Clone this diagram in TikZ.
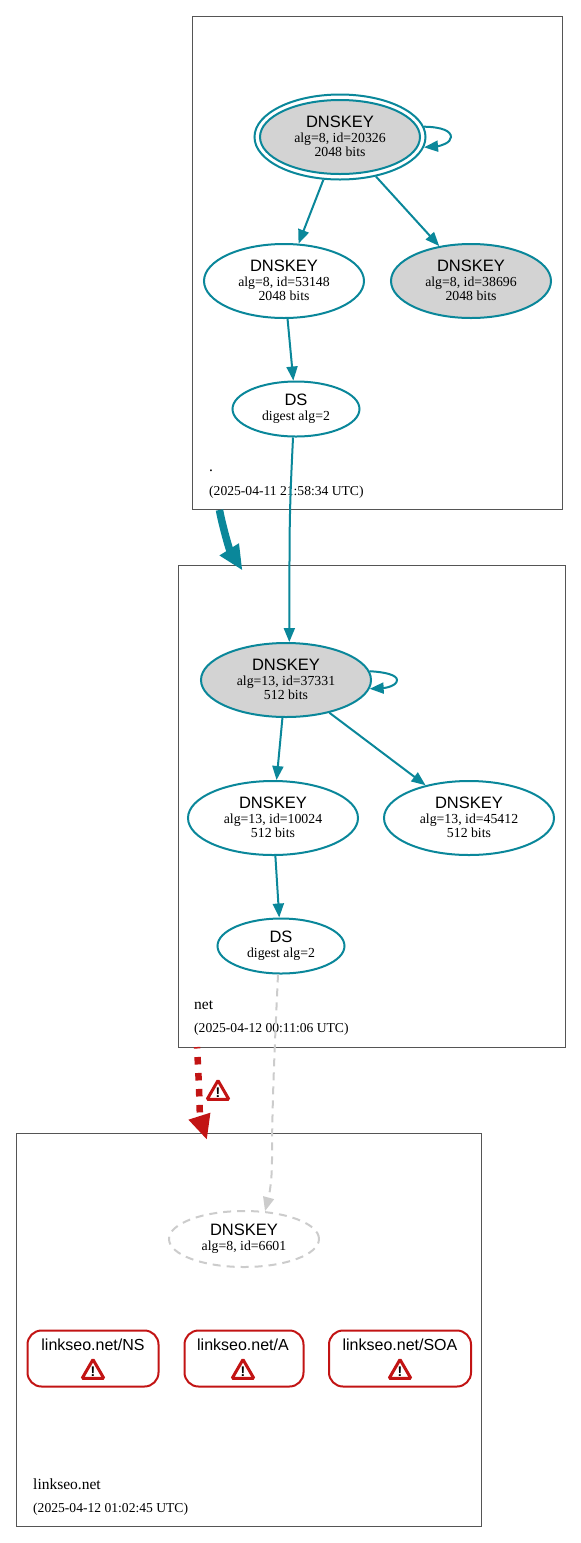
\documentclass[tikz,border=0pt]{standalone}
\usepackage{fontspec}
\setmainfont{Liberation Serif}
\newfontfamily\keyfont{Liberation Sans}
\definecolor{dnsteal}{RGB}{10,135,154}
\definecolor{dnsred}{RGB}{194,20,20}
\definecolor{dnsgray}{RGB}{211,211,211}
\definecolor{dashgray}{RGB}{204,204,204}
\definecolor{zoneline}{RGB}{85,85,85}
\usetikzlibrary{arrows.meta,shapes.geometric}
\newcommand{\keytitle}[1]{{\fontsize{16.5}{14}\selectfont\keyfont #1}\\[1pt]}
\newcommand{\keybits}[1]{#1\rule[-2pt]{0pt}{2pt}}

\begin{document}
\begin{tikzpicture}[x=1pt,y=-1pt,
    every node/.style={font=\fontsize{13.8}{14}\selectfont},
    zone/.style={draw=zoneline,line width=0.9pt,anchor=north west,inner sep=0pt},
    zonetext/.style={anchor=base west,inner sep=0pt},
    zonename/.style={zonetext,font=\fontsize{15.5}{15.5}\selectfont},
    zonedate/.style={zonetext,font=\fontsize{13.6}{13.6}\selectfont},
    key/.style={ellipse,draw=dnsteal,line width=2pt,fill=white,inner sep=0pt,
                align=center,minimum width=160pt,minimum height=74pt},
    keynet/.style={key,minimum width=170pt},
    dsbox/.style={key,minimum width=127pt,minimum height=55pt},
    grayfill/.style={fill=dnsgray},
    rrset/.style={draw=dnsred,line width=2pt,rounded corners=14pt,inner sep=0pt,
                  minimum height=56pt},
    rrtext/.style={font=\fontsize{16}{16}\selectfont\keyfont},
    warn/.style={regular polygon,regular polygon sides=3,draw=dnsred,line width=3pt,
                 fill=white,inner sep=0pt,minimum size=25pt,rounded corners=1pt,
                 label={[font=\fontsize{14}{14}\selectfont\bfseries\keyfont,inner sep=0pt,yshift=0.5pt]center:!}},
    arr/.style={-{Triangle[length=14pt,width=11pt]},line width=2pt,dnsteal},
    arrgray/.style={-{Triangle[length=14pt,width=11pt]},line width=2pt,dashgray,dash pattern=on 8pt off 6pt},
    zonearr/.style={-{Triangle[length=25pt,width=21pt]},line width=7.5pt,dnsteal},
    zonewarn/.style={-{Triangle[length=25pt,width=21pt]},line width=6.5pt,dnsred,dash pattern=on 7.5pt off 8.5pt,dash phase=6pt}]
  \useasboundingbox (0,0) rectangle (581,1543);

  %% Zone boxes
  \node[zone,minimum width=370pt,minimum height=493pt] (rootzone) at (191.500,15.500) {};
  \node[zone,minimum width=387pt,minimum height=482pt] (netzone) at (177.500,564.500) {};
  \node[zone,minimum width=465pt,minimum height=393pt] (linkzone) at (15.500,1132.500) {};

  %% Zone labels
  \node[zonename] (rootname) at (209,471) {.};
  \node[zonedate] (rootdate) at (209,495) {(2025-04-11 21:58:34 UTC)};
  \node[zonename] (netname) at (194,1009) {net};
  \node[zonedate] (netdate) at (194,1032) {(2025-04-12 00:11:06 UTC)};
  \node[zonename] (linkname) at (33,1489) {linkseo.net};
  \node[zonedate] (linkdate) at (33,1512) {(2025-04-12 01:02:45 UTC)};

  %% Root zone keys
  \node[key,fill=none,minimum width=171pt,minimum height=85pt] (kskrootout) at (340,137) {};
  \node[key,grayfill] (kskroot) at (340,137) {\keytitle{DNSKEY}alg=8, id=20326\\\keybits{2048 bits}};
  \node[key] (zskroot) at (284,281) {\keytitle{DNSKEY}alg=8, id=53148\\\keybits{2048 bits}};
  \node[key,grayfill] (altroot) at (471,281) {\keytitle{DNSKEY}alg=8, id=38696\\\keybits{2048 bits}};
  \node[dsbox] (dsroot) at (296,409) {\keytitle{DS}digest alg=2};

  %% Net zone keys
  \node[keynet,grayfill] (ksknet) at (286,680) {\keytitle{DNSKEY}alg=13, id=37331\\\keybits{512 bits}};
  \node[keynet] (zsknet) at (273,818) {\keytitle{DNSKEY}alg=13, id=10024\\\keybits{512 bits}};
  \node[keynet] (altnet) at (469,818) {\keytitle{DNSKEY}alg=13, id=45412\\\keybits{512 bits}};
  \node[dsbox] (dsnet) at (281,946) {\keytitle{DS}digest alg=2};

  %% Linkseo zone
  \node[key,draw=dashgray,dash pattern=on 8pt off 6pt,minimum width=150pt,minimum height=56pt] (keylink) at (244,1239) {\keytitle{DNSKEY}alg=8, id=6601};
  \node[rrset,minimum width=131pt] (rrns) at (93,1358.500) {};
  \node[rrset,minimum width=119pt] (rra) at (244,1358.500) {};
  \node[rrset,minimum width=142pt] (rrsoa) at (400,1358.500) {};
  \node[rrtext] (rrnstext) at (93,1345) {linkseo.net/NS};
  \node[rrtext] (rratext) at (243,1345) {linkseo.net/A};
  \node[rrtext] (rrsoatext) at (400,1345) {linkseo.net/SOA};
  \node[warn] (warnns) at (93,1372) {};
  \node[warn] (warna) at (243,1372) {};
  \node[warn] (warnsoa) at (400,1372) {};
  \node[warn] (warnzone) at (218,1093) {};

  %% Arrows
  \draw[arr] (kskrootout) -- (zskroot);
  \draw[arr] (kskrootout) -- (altroot);
  \draw[arr] (zskroot) -- (dsroot);
  \draw[arr] (kskrootout.7) .. controls (442,127) and (451,131) .. (451,137) .. controls (451,143) and (440,146) .. (kskrootout.-7);
  \draw[arr] (dsroot.264) .. controls (291,480) and (289.500,510) .. (289.500,560) -- (ksknet.85);
  \draw[arr] (ksknet) -- (zsknet);
  \draw[arr] (ksknet) -- (altnet);
  \draw[arr] (zsknet) -- (dsnet);
  \draw[arr] (ksknet.6) .. controls (385,672) and (397,675) .. (397,680) .. controls (397,686) and (385,688) .. (ksknet.-6);
  \draw[arrgray] (dsnet.264) .. controls (274,1060) and (272,1110) .. (272,1160) .. controls (272,1185) and (268,1200) .. (keylink.53);

  %% Zone arrows
  \coordinate (rootout) at (219.500,510);
  \coordinate (netin) at (242.500,570.500);
  \coordinate (netout) at (197,1047);
  \coordinate (linkin) at (207,1140);
  \draw[zonearr] (rootout) .. controls (221.500,522) and (229,549) .. (netin);
  \draw[zonewarn] (netout) .. controls (199,1080) and (200,1118) .. (linkin);
\end{tikzpicture}
\end{document}
